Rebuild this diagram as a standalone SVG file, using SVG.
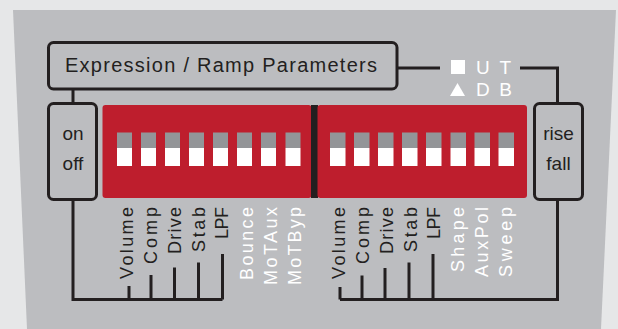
<svg xmlns="http://www.w3.org/2000/svg" width="618" height="329" viewBox="0 0 618 329">
<style>
.box{fill:#bcbdc0;stroke:#231f20;stroke-width:3}
.ln{fill:none;stroke:#231f20;stroke-width:3}
.t{font-family:"Liberation Sans",Arial,sans-serif;fill:#231f20}
.w{font-family:"Liberation Sans",Arial,sans-serif;fill:#ffffff}
.lab{font-size:18px}
.sg{fill:#939598}
.sw{fill:#ffffff}
.red{fill:#be1e2d}
</style>
<rect x="0" y="0" width="618" height="329" fill="#e6e7e8"/>
<polygon points="13,10 616,10 601,329 27,329" fill="#bcbdc0"/>

<g id="connectors">
<line class="ln" x1="73" y1="89" x2="73" y2="103"/>
<polyline class="ln" points="73,199.5 73,299.5 222.5,299.5"/>
<line class="ln" x1="129" y1="299.5" x2="129" y2="286"/>
<line class="ln" x1="151" y1="299.5" x2="151" y2="275"/>
<line class="ln" x1="174.5" y1="299.5" x2="174.5" y2="267.5"/>
<line class="ln" x1="198.5" y1="299.5" x2="198.5" y2="262.5"/>
<line class="ln" x1="222.5" y1="299.5" x2="222.5" y2="254"/>
<polyline class="ln" points="557.5,199.5 557.5,299.5 340,299.5"/>
<line class="ln" x1="340" y1="299.5" x2="340" y2="287"/>
<line class="ln" x1="362" y1="299.5" x2="362" y2="275.5"/>
<line class="ln" x1="385" y1="299.5" x2="385" y2="268"/>
<line class="ln" x1="409" y1="299.5" x2="409" y2="262.5"/>
<line class="ln" x1="433" y1="299.5" x2="433" y2="254"/>
<line class="ln" x1="397" y1="68" x2="440" y2="68"/>
<polyline class="ln" points="520,68 557.5,68 557.5,103"/>
</g>

<g id="expression">
<rect class="box" x="48.5" y="42.5" width="348.5" height="46.5" rx="5"/>
<text class="t" x="65" y="72" font-size="20" textLength="312" lengthAdjust="spacing">Expression / Ramp Parameters</text>
</g>

<g id="legend">
<rect x="451" y="60" width="14" height="14" fill="#ffffff"/>
<text class="w" x="476" y="74" font-size="19" textLength="35" lengthAdjust="spacing">U T</text>
<polygon points="450,96 465,96 457.5,83" fill="#ffffff"/>
<text class="w" x="476" y="96" font-size="19" textLength="36" lengthAdjust="spacing">D B</text>
</g>

<g id="onoff">
<rect class="box" x="48.5" y="103.5" width="48" height="96" rx="5"/>
<text class="t" x="73" y="140" font-size="19" text-anchor="middle">on</text>
<text class="t" x="73" y="170" font-size="19" text-anchor="middle">off</text>
</g>

<g id="risefall">
<rect class="box" x="534.5" y="103.5" width="48" height="96" rx="5"/>
<text class="t" x="558.5" y="140" font-size="19" text-anchor="middle">rise</text>
<text class="t" x="558.5" y="170" font-size="19" text-anchor="middle">fall</text>
</g>

<g id="dip-left">
<rect class="red" x="102.5" y="105" width="209" height="93" rx="3"/>
<g>
<rect class="sg" x="117" y="132.5" width="15" height="15.5"/><rect class="sw" x="117" y="148" width="15" height="18"/>
<rect class="sg" x="141" y="132.5" width="15" height="15.5"/><rect class="sw" x="141" y="148" width="15" height="18"/>
<rect class="sg" x="165" y="132.5" width="15" height="15.5"/><rect class="sw" x="165" y="148" width="15" height="18"/>
<rect class="sg" x="189" y="132.5" width="15" height="15.5"/><rect class="sw" x="189" y="148" width="15" height="18"/>
<rect class="sg" x="213" y="132.5" width="15" height="15.5"/><rect class="sw" x="213" y="148" width="15" height="18"/>
<rect class="sg" x="237" y="132.5" width="15" height="15.5"/><rect class="sw" x="237" y="148" width="15" height="18"/>
<rect class="sg" x="261" y="132.5" width="15" height="15.5"/><rect class="sw" x="261" y="148" width="15" height="18"/>
<rect class="sg" x="285.5" y="132.5" width="15" height="15.5"/><rect class="sw" x="285.5" y="148" width="15" height="18"/>
</g>
</g>

<g id="divider">
<rect x="311" y="105" width="7" height="93" fill="#231f20"/>
</g>

<g id="dip-right">
<rect class="red" x="317.5" y="105" width="209.5" height="93" rx="3"/>
<g>
<rect class="sg" x="330" y="132.5" width="15.5" height="15.5"/><rect class="sw" x="330" y="148" width="15.5" height="18"/>
<rect class="sg" x="354" y="132.5" width="15.5" height="15.5"/><rect class="sw" x="354" y="148" width="15.5" height="18"/>
<rect class="sg" x="378" y="132.5" width="15.5" height="15.5"/><rect class="sw" x="378" y="148" width="15.5" height="18"/>
<rect class="sg" x="402" y="132.5" width="15.5" height="15.5"/><rect class="sw" x="402" y="148" width="15.5" height="18"/>
<rect class="sg" x="426" y="132.5" width="15.5" height="15.5"/><rect class="sw" x="426" y="148" width="15.5" height="18"/>
<rect class="sg" x="450.5" y="132.5" width="15.5" height="15.5"/><rect class="sw" x="450.5" y="148" width="15.5" height="18"/>
<rect class="sg" x="474.5" y="132.5" width="15.5" height="15.5"/><rect class="sw" x="474.5" y="148" width="15.5" height="18"/>
<rect class="sg" x="498.5" y="132.5" width="15.5" height="15.5"/><rect class="sw" x="498.5" y="148" width="15.5" height="18"/>
</g>
</g>

<g id="labels-left">
<text class="t lab" transform="translate(133,207) rotate(-90)" text-anchor="end" textLength="72" lengthAdjust="spacing">Volume</text>
<text class="t lab" transform="translate(157,207) rotate(-90)" text-anchor="end" textLength="57" lengthAdjust="spacing">Comp</text>
<text class="t lab" transform="translate(181,207) rotate(-90)" text-anchor="end" textLength="47" lengthAdjust="spacing">Drive</text>
<text class="t lab" transform="translate(205,207) rotate(-90)" text-anchor="end" textLength="45" lengthAdjust="spacing">Stab</text>
<text class="t lab" transform="translate(228,207) rotate(-90)" text-anchor="end" textLength="32" lengthAdjust="spacing">LPF</text>
<text class="w lab" transform="translate(253,207) rotate(-90)" text-anchor="end" textLength="73" lengthAdjust="spacing">Bounce</text>
<text class="w lab" transform="translate(277,207) rotate(-90)" text-anchor="end" textLength="78" lengthAdjust="spacing">MoTAux</text>
<text class="w lab" transform="translate(300.5,207) rotate(-90)" text-anchor="end" textLength="78" lengthAdjust="spacing">MoTByp</text>
</g>

<g id="labels-right">
<text class="t lab" transform="translate(345,207) rotate(-90)" text-anchor="end" textLength="72" lengthAdjust="spacing">Volume</text>
<text class="t lab" transform="translate(369,207) rotate(-90)" text-anchor="end" textLength="57" lengthAdjust="spacing">Comp</text>
<text class="t lab" transform="translate(392.5,207) rotate(-90)" text-anchor="end" textLength="47" lengthAdjust="spacing">Drive</text>
<text class="t lab" transform="translate(416.5,207) rotate(-90)" text-anchor="end" textLength="45" lengthAdjust="spacing">Stab</text>
<text class="t lab" transform="translate(440,207) rotate(-90)" text-anchor="end" textLength="32" lengthAdjust="spacing">LPF</text>
<text class="w lab" transform="translate(464,207) rotate(-90)" text-anchor="end" textLength="65" lengthAdjust="spacing">Shape</text>
<text class="w lab" transform="translate(488,207) rotate(-90)" text-anchor="end" textLength="70" lengthAdjust="spacing">AuxPol</text>
<text class="w lab" transform="translate(512,207) rotate(-90)" text-anchor="end" textLength="70" lengthAdjust="spacing">Sweep</text>
</g>
</svg>
